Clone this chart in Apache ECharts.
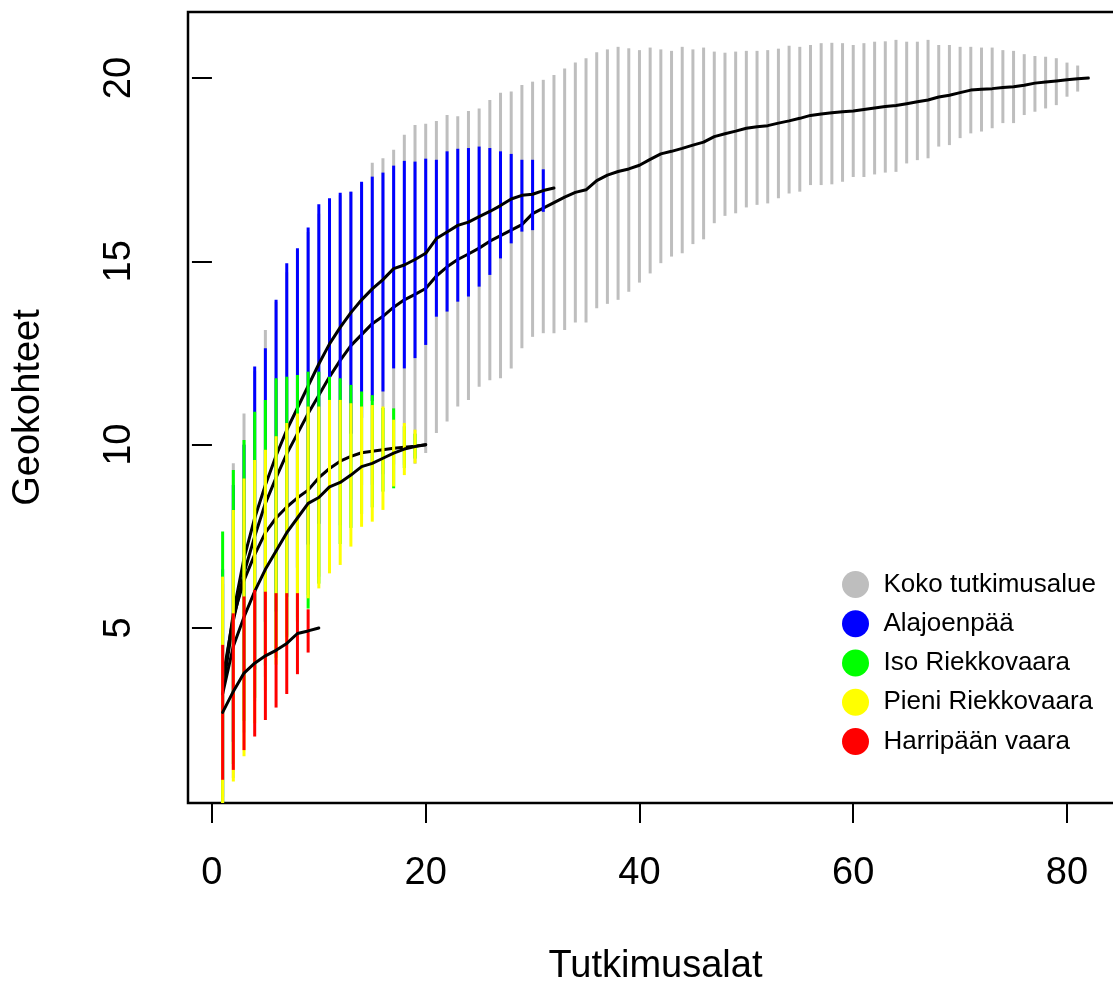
<!DOCTYPE html>
<html>
<head>
<meta charset="utf-8">
<script src="https://cdn.jsdelivr.net/npm/echarts@6/dist/echarts.min.js"></script>
<style>
html,body{margin:0;padding:0;background:#ffffff;}
#chart{width:1113px;height:985px;}
</style>
</head>
<body>
<div id="chart"></div>
<script>
// ---------------- data ----------------
const legendNames = ['Koko tutkimusalue', 'Alajoenpää', 'Iso Riekkovaara', 'Pieni Riekkovaara', 'Harripään vaara'];
const legendColors = ['#BEBEBE', '#0000FF', '#00FF00', '#FFFF00', '#FF0000'];
const xTicks = [0, 20, 40, 60, 80];
const yTicks = [5, 10, 15, 20];
const xAxisTitle = 'Tutkimusalat';
const yAxisTitle = 'Geokohteet';

// Koko tutkimusalue (x = 1..82)
const kokoMean = [3.3,5.2,6.5,7.5,8.4,9.1,9.75,10.3,10.85,11.35,
  11.85,12.3,12.7,13.0,13.3,13.5,13.75,13.95,14.1,14.26,
  14.6,14.85,15.05,15.2,15.36,15.55,15.7,15.85,16.0,16.3,
  16.45,16.6,16.75,16.88,16.95,17.2,17.35,17.45,17.52,17.62,
  17.78,17.93,18.0,18.08,18.17,18.25,18.4,18.48,18.55,18.63,
  18.67,18.7,18.77,18.83,18.9,18.98,19.02,19.05,19.08,19.1,
  19.14,19.18,19.22,19.25,19.3,19.35,19.4,19.48,19.53,19.6,
  19.67,19.69,19.71,19.74,19.76,19.8,19.86,19.89,19.92,19.95,
  19.98,20.0];
const kokoHigh = [6.2,9.49,10.85,12.0,13.13,13.9,14.7,15.3,15.8,16.3,
  16.6,16.8,16.9,17.1,17.69,17.81,18.04,18.45,18.72,18.75,
  18.83,18.99,18.96,19.1,19.17,19.4,19.6,19.63,19.81,19.9,
  19.95,20.08,20.26,20.42,20.54,20.7,20.78,20.85,20.81,20.76,
  20.83,20.78,20.74,20.85,20.78,20.83,20.72,20.69,20.72,20.74,
  20.74,20.76,20.8,20.88,20.85,20.9,20.95,20.96,20.95,20.9,
  20.95,20.99,21.0,21.04,20.99,20.99,21.04,20.9,20.9,20.85,
  20.85,20.83,20.83,20.76,20.74,20.65,20.6,20.58,20.54,20.42,
  20.34,20.0];
const kokoLow = [0.4,0.91,2.15,3.0,3.67,4.3,4.8,5.3,5.9,6.4,
  7.1,7.8,8.5,8.9,8.91,9.19,9.46,9.45,9.48,9.77,
  10.32,10.63,11.04,11.22,11.58,11.76,11.81,12.08,12.63,12.94,
  13.04,13.04,13.13,13.33,13.33,13.72,13.84,13.95,14.17,14.42,
  14.67,14.95,15.13,15.22,15.47,15.6,16.04,16.24,16.31,16.47,
  16.54,16.58,16.72,16.85,16.9,17.08,17.08,17.1,17.17,17.3,
  17.3,17.37,17.42,17.44,17.67,17.76,17.81,18.13,18.17,18.36,
  18.49,18.54,18.63,18.77,18.77,18.99,19.08,19.17,19.26,19.49,
  19.63,20.0];

// Alajoenpää (x = 1..32)
const alaMean = [3.4,5.4,6.9,8.0,8.9,9.7,10.4,11.0,11.6,12.2,
  12.75,13.2,13.6,13.95,14.25,14.5,14.8,14.9,15.05,15.22,
  15.62,15.8,15.98,16.07,16.22,16.36,16.52,16.7,16.8,16.83,
  16.93,17.0];
const alaHigh = [6.6,8.9,10.0,12.13,12.63,13.95,14.95,15.36,15.92,16.56,
  16.72,16.87,16.9,17.17,17.31,17.42,17.61,17.74,17.72,17.8,
  17.77,18.0,18.07,18.09,18.13,18.09,18.0,17.93,17.77,17.77,
  17.51,17.0];
const alaLow = [0.2,1.9,3.8,3.87,5.17,5.45,5.85,6.64,7.28,7.84,
  8.78,9.53,10.3,10.73,11.19,11.45,12.08,12.08,12.36,12.72,
  13.49,13.63,13.9,14.04,14.31,14.63,15.08,15.49,15.81,15.85,
  16.35,17.0];

// Iso Riekkovaara (x = 1..20)
const isoMean = [3.6,5.3,6.3,7.0,7.6,8.0,8.3,8.55,8.76,9.1,
  9.35,9.55,9.68,9.78,9.82,9.86,9.9,9.93,9.96,10.0];
const isoHigh = [7.63,9.31,10.13,10.9,11.22,11.81,11.85,11.9,11.99,11.99,
  11.85,11.81,11.63,11.45,11.35,11.0,10.99,10.5,10.3,10.0];
const isoLow = [-0.4,1.29,2.47,3.1,3.98,4.19,4.75,5.2,5.53,6.21,
  6.85,7.29,7.73,8.11,8.29,8.72,8.81,9.36,9.62,10.0];

// Pieni Riekkovaara (x = 1..20)
const pieniMean = [3.2,4.5,5.3,6.0,6.6,7.1,7.6,8.0,8.4,8.56,
  8.85,8.97,9.17,9.4,9.49,9.63,9.77,9.88,9.95,10.0];
const pieniHigh = [6.4,8.22,9.08,9.58,9.86,10.23,10.59,10.85,11.04,11.04,
  11.22,11.22,11.13,11.04,11.08,11.04,10.68,10.59,10.41,10.0];
const pieniLow = [0.0,0.81,1.5,2.4,3.3,4.0,4.6,5.15,5.81,6.08,
  6.49,6.72,7.22,7.76,7.9,8.22,8.86,9.17,9.49,10.0];

// Harripään vaara (x = 1..10)
const harriMean = [2.7,3.27,3.77,4.04,4.24,4.39,4.58,4.85,4.92,5.0];
const harriHigh = [4.54,5.4,5.86,6.04,5.99,5.95,5.95,5.95,5.51,5.0];
const harriLow = [0.86,1.13,1.67,2.04,2.49,2.83,3.2,3.74,4.33,5.0];

// ---------------- chart ----------------
const FONT = '"Liberation Sans", Arial, Helvetica, sans-serif';
const X_MIN = -2.24, X_MAX = 85.24;
const Y_MIN = 0.227, Y_MAX = 21.8;

const groups = [
  [kokoMean, kokoLow, kokoHigh],
  [alaMean, alaLow, alaHigh],
  [isoMean, isoLow, isoHigh],
  [pieniMean, pieniLow, pieniHigh],
  [harriMean, harriLow, harriHigh]
];

function renderBar(params, api) {
  const x = api.value(0);
  const lo = Math.max(api.value(1), Y_MIN);
  const hi = Math.min(api.value(2), Y_MAX);
  if (hi <= lo) return null;
  const p1 = api.coord([x, lo]);
  const p2 = api.coord([x, hi]);
  return {
    type: 'line',
    shape: {x1: p1[0], y1: p1[1], x2: p2[0], y2: p2[1]},
    style: {stroke: api.visual('color'), lineWidth: 3, lineCap: 'butt'}
  };
}

const series = [];
groups.forEach(function (g, i) {
  const mean = g[0], low = g[1], high = g[2];
  series.push({
    type: 'custom',
    name: legendNames[i],
    z: 2 * i + 1,
    silent: true,
    itemStyle: {color: legendColors[i]},
    renderItem: renderBar,
    encode: {x: 0, y: [1, 2]},
    data: mean.map(function (m, k) { return [k + 1, low[k], high[k]]; })
  });
  series.push({
    type: 'line',
    name: legendNames[i] + ' keskiarvo',
    z: 2 * i + 2,
    silent: true,
    symbol: 'none',
    showSymbol: false,
    lineStyle: {color: '#000000', width: 3, join: 'round', cap: 'round'},
    itemStyle: {color: '#000000'},
    data: mean.map(function (m, k) { return [k + 1, m]; })
  });
});

const chart = echarts.init(document.getElementById('chart'), null, {renderer: 'canvas'});
chart.setOption({
  animation: false,
  backgroundColor: '#ffffff',
  grid: {
    left: 188, top: 12, width: 935, height: 791,
    show: true, borderColor: '#000000', borderWidth: 2.5, backgroundColor: 'transparent',
    containLabel: false,
    outerBoundsMode: 'none'
  },
  legend: {
    orient: 'vertical',
    left: 837, top: 566,
    itemWidth: 46, itemHeight: 27, itemGap: 12.25,
    icon: 'circle',
    selectedMode: false,
    z: 20,
    textStyle: {fontSize: 26, color: '#000000', fontFamily: FONT, lineHeight: 27},
    data: legendNames.map(function (n, i) { return {name: n, itemStyle: {color: legendColors[i]}}; })
  },
  xAxis: {
    type: 'value', min: X_MIN, max: X_MAX,
    name: xAxisTitle, nameLocation: 'middle', nameGap: 145,
    nameTextStyle: {fontSize: 38, color: '#000000', fontFamily: FONT, lineHeight: 38},
    axisLine: {show: false},
    splitLine: {show: false},
    axisTick: {show: true, inside: false, length: 20, customValues: xTicks, lineStyle: {color: '#000000', width: 2}},
    axisLabel: {customValues: xTicks, fontSize: 38, color: '#000000', fontFamily: FONT, margin: 52, lineHeight: 38}
  },
  yAxis: {
    type: 'value', min: Y_MIN, max: Y_MAX,
    name: yAxisTitle, nameLocation: 'middle', nameGap: 140,
    nameTextStyle: {fontSize: 38, color: '#000000', fontFamily: FONT, lineHeight: 38},
    axisLine: {show: false},
    splitLine: {show: false},
    axisTick: {show: true, inside: false, length: 20, customValues: yTicks, lineStyle: {color: '#000000', width: 2}},
    axisLabel: {customValues: yTicks, rotate: 90, fontSize: 38, color: '#000000', fontFamily: FONT, margin: 49, lineHeight: 38}
  },
  series: series
});
</script>
</body>
</html>
